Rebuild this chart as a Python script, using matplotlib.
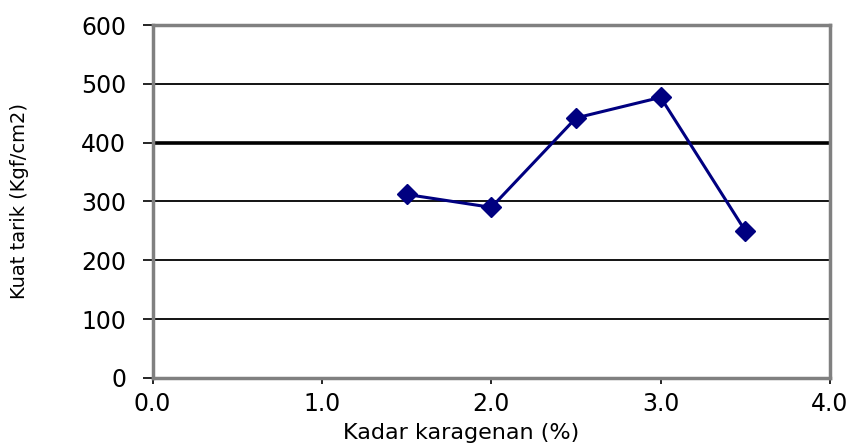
import matplotlib
matplotlib.use("Agg")
import matplotlib.pyplot as plt

# data
kadar = [1.5, 2.0, 2.5, 3.0, 3.5]
kuat_tarik = [312, 290, 442, 477, 250]
x_ticks = [0.0, 1.0, 2.0, 3.0, 4.0]
y_ticks = [0, 100, 200, 300, 400, 500, 600]

plt.rcParams['font.family'] = 'DejaVu Sans'

fig = plt.figure(figsize=(8.53, 4.45), dpi=100)
ax = fig.add_axes([0.179, 0.1506, 0.794, 0.7932])

# horizontal gridlines (the 400 one is drawn heavier in the original)
for y in y_ticks[1:-1]:
    ax.axhline(y, color='black', lw=2.6 if y == 400 else 1.3, zorder=1)

ax.plot(kadar, kuat_tarik, color='#000080', lw=2.2, marker='D',
        markersize=10, markerfacecolor='#000080', markeredgecolor='#000080', zorder=3)

ax.set_xlim(0, 4)
ax.set_ylim(0, 600)
ax.set_xticks(x_ticks)
ax.set_xticklabels([f"{v:.1f}" for v in x_ticks])
ax.set_yticks(y_ticks)

for side in ['left', 'top', 'right', 'bottom']:
    ax.spines[side].set_color('#808080')
    ax.spines[side].set_linewidth(2.5)

ax.tick_params(axis='y', direction='out', length=7, width=1.2, labelsize=17, pad=12)
ax.tick_params(axis='x', direction='out', length=4, width=1.2, labelsize=17, pad=6)

ax.set_xlabel("Kadar karagenan (%)", fontsize=16, va='center')
ax.xaxis.set_label_coords(0.456, -0.155)
ax.set_ylabel("Kuat tarik (Kgf/cm2)", fontsize=14, va='center')
ax.yaxis.set_label_coords(-0.196, 0.5)

fig.savefig("out.png", dpi=100)
